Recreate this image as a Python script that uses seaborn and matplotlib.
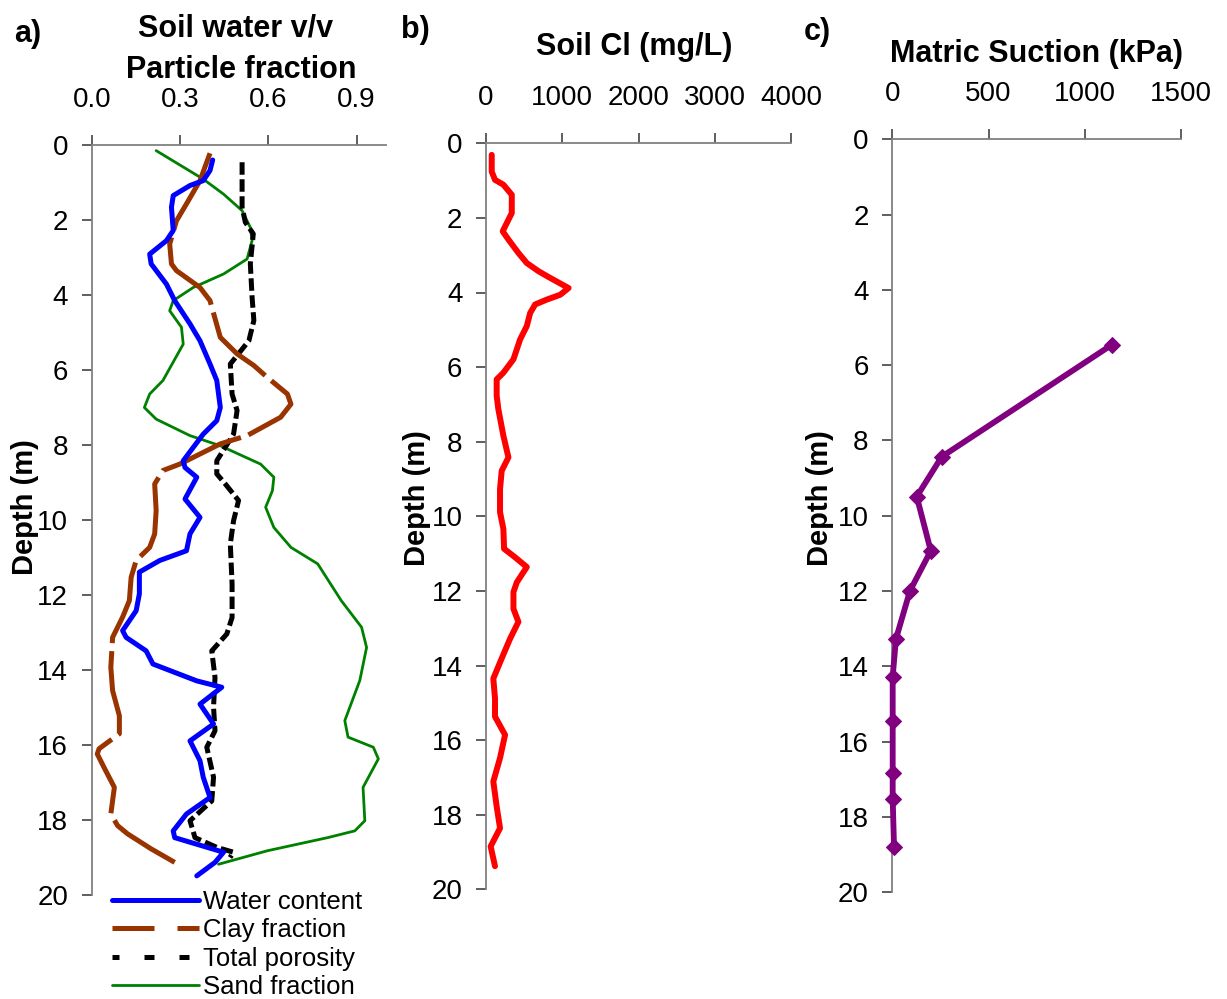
import numpy as np
import pandas as pd
import matplotlib
matplotlib.use("Agg")
import matplotlib.pyplot as plt
import seaborn as sns
from matplotlib.lines import Line2D

sns.set_theme(style="white")
plt.rcParams["font.family"] = ["Liberation Sans", "DejaVu Sans"]
plt.rcParams["text.color"] = "black"

# ---------------- data ----------------
water_depth = [0.40, 0.68, 0.95, 1.08, 1.35, 1.66, 2.28, 2.55, 2.91, 3.17, 3.71, 4.15, 4.77, 5.22,
               5.84, 6.28, 7.00, 7.35, 7.71, 8.42, 8.60, 8.86, 9.44, 9.93, 10.37, 10.82, 11.08,
               11.39, 11.97, 12.42, 12.95, 13.13, 13.49, 13.84, 14.29, 14.46, 14.91, 15.44, 15.89,
               16.42, 16.86, 17.40, 17.84, 18.29, 18.47, 18.86, 19.13, 19.49]
water_value = [0.411, 0.402, 0.379, 0.334, 0.277, 0.271, 0.277, 0.254, 0.197, 0.202, 0.254, 0.282,
               0.334, 0.368, 0.402, 0.425, 0.437, 0.425, 0.379, 0.311, 0.317, 0.357, 0.317, 0.368,
               0.334, 0.322, 0.231, 0.162, 0.162, 0.151, 0.105, 0.117, 0.185, 0.208, 0.357, 0.442,
               0.368, 0.414, 0.334, 0.368, 0.379, 0.402, 0.322, 0.277, 0.282, 0.448, 0.419, 0.357]

clay_depth = [0.22, 0.95, 1.57, 2.02, 2.64, 3.17, 3.35, 3.80, 4.15, 5.13, 5.57, 5.88, 6.20, 6.64,
              6.91, 7.26, 7.75, 7.97, 8.51, 8.68, 9.04, 9.75, 10.37, 10.73, 11.08, 11.53, 12.15,
              12.59, 13.13, 13.93, 14.55, 15.22, 15.70, 16.10, 16.24, 16.60, 17.13, 17.84, 18.15,
              18.37, 18.77, 19.13]
clay_value = [0.402, 0.368, 0.322, 0.288, 0.265, 0.271, 0.288, 0.368, 0.402, 0.437, 0.494, 0.551,
              0.597, 0.665, 0.677, 0.642, 0.528, 0.437, 0.299, 0.242, 0.214, 0.219, 0.214, 0.197,
              0.151, 0.134, 0.128, 0.105, 0.071, 0.065, 0.071, 0.094, 0.094, 0.025, 0.019, 0.042,
              0.077, 0.065, 0.088, 0.122, 0.202, 0.282]

poro_depth = [0.46, 1.66, 2.06, 2.37, 3.17, 4.06, 4.68, 5.22, 5.84, 6.64, 7.08, 7.71, 8.42, 8.77,
              9.04, 9.48, 10.02, 10.64, 11.71, 12.60, 13.04, 13.49, 14.20, 14.99, 15.62, 16.06,
              16.86, 17.49, 18.02, 18.47, 18.73, 18.86, 19.00]
poro_value = [0.511, 0.511, 0.522, 0.549, 0.539, 0.545, 0.551, 0.534, 0.471, 0.477, 0.494, 0.482,
              0.425, 0.425, 0.454, 0.499, 0.482, 0.471, 0.477, 0.477, 0.459, 0.408, 0.419, 0.414,
              0.419, 0.391, 0.414, 0.408, 0.334, 0.351, 0.425, 0.482, 0.470]

sand_depth = [0.15, 0.91, 1.31, 1.75, 2.20, 2.55, 3.04, 3.44, 3.80, 4.15, 4.42, 4.86, 5.31, 6.28,
              6.64, 7.00, 7.31, 7.75, 8.02, 8.51, 8.86, 9.22, 9.66, 10.20, 10.73, 11.17, 12.15,
              12.86, 13.40, 14.28, 15.35, 15.79, 16.06, 16.37, 17.13, 18.02, 18.29, 18.47, 18.82,
              19.18]
sand_value = [0.219, 0.379, 0.448, 0.511, 0.539, 0.545, 0.528, 0.448, 0.345, 0.277, 0.265, 0.305,
              0.311, 0.242, 0.197, 0.179, 0.219, 0.334, 0.437, 0.574, 0.619, 0.614, 0.591, 0.619,
              0.677, 0.768, 0.848, 0.917, 0.934, 0.911, 0.860, 0.871, 0.957, 0.974, 0.922, 0.928,
              0.894, 0.802, 0.597, 0.431]

cl_depth = [0.31, 0.76, 0.98, 1.11, 1.38, 1.87, 2.14, 2.36, 2.58, 2.94, 3.21, 3.43, 3.61, 3.88,
            4.06, 4.19, 4.32, 4.55, 4.90, 5.26, 5.79, 6.15, 6.33, 6.77, 7.13, 7.84, 8.42, 8.78,
            9.27, 9.89, 10.34, 10.87, 11.10, 11.36, 11.77, 12.03, 12.48, 12.83, 13.28, 13.81,
            14.35, 14.88, 15.37, 15.86, 16.48, 17.11, 17.78, 18.36, 18.85, 19.38]
cl_value = [75, 75, 118, 228, 338, 338, 272, 219, 294, 425, 535, 689, 842, 1083, 974, 798, 645,
            579, 535, 447, 360, 228, 140, 140, 162, 228, 294, 206, 184, 184, 228, 237, 382, 535,
            404, 360, 360, 425, 316, 206, 96, 118, 118, 250, 184, 96, 140, 184, 61, 118]

suction_depth = [5.46, 8.43, 9.49, 10.93, 11.99, 13.27, 14.27, 15.44, 16.82, 17.51, 18.79]
suction_value = [1140, 257, 127, 200, 92, 19, 2, 2, 2, 2, 9]

depth_ticks = list(range(0, 21, 2))
a_ticks = [0.0, 0.3, 0.6, 0.9]
a_ticklabels = ["0.0", "0.3", "0.6", "0.9"]
b_ticks = [0, 1000, 2000, 3000, 4000]
c_ticks = [0, 500, 1000, 1500]

legend_labels = ["Water content", "Clay fraction", "Total porosity", "Sand fraction"]

# ---------------- figure ----------------
W, H = 1227, 999
fig = plt.figure(figsize=(W / 100, H / 100), dpi=100)


def px_axes(l, t, r, b):
    return fig.add_axes([l / W, 1 - b / H, (r - l) / W, (b - t) / H])


axa = px_axes(91.7, 145, 386, 895)
axb = px_axes(486, 143.3, 791, 889.3)
axc = px_axes(892.3, 139.3, 1181, 892.3)

BLUE, BROWN, GREEN, RED, PURPLE = "#0000FF", "#993300", "#008000", "#FF0000", "#800080"

# panel a
sns.lineplot(x=sand_value, y=sand_depth, sort=False, estimator=None, ax=axa,
             color=GREEN, linewidth=2.0)
sns.lineplot(x=poro_value, y=poro_depth, sort=False, estimator=None, ax=axa,
             color="black", linewidth=3.6, linestyle=(0, (2.5, 0.9)))
sns.lineplot(x=clay_value, y=clay_depth, sort=False, estimator=None, ax=axa,
             color=BROWN, linewidth=3.6, linestyle=(0, (17, 1.6)))
sns.lineplot(x=water_value, y=water_depth, sort=False, estimator=None, ax=axa,
             color=BLUE, linewidth=3.6)

# panel b
sns.lineplot(x=cl_value, y=cl_depth, sort=False, estimator=None, ax=axb,
             color=RED, linewidth=4.3)

# panel c
sns.lineplot(x=suction_value, y=suction_depth, sort=False, estimator=None, ax=axc,
             color=PURPLE, linewidth=4.2, marker="D", markersize=8.5,
             markeredgecolor=PURPLE, markerfacecolor=PURPLE, clip_on=False)
for ln in axc.lines:
    ln.set_clip_on(False)
    ln.set_zorder(5)


def style(ax, xlim, xticks, xticklabels):
    ax.set_xlim(*xlim)
    ax.set_ylim(20, 0)
    ax.set_xticks(xticks)
    ax.set_xticklabels(xticklabels)
    ax.set_yticks(depth_ticks)
    ax.set_yticklabels([str(t) for t in depth_ticks])
    ax.xaxis.tick_top()
    ax.grid(False)
    ax.set_xlabel("")
    ax.set_ylabel("")
    for s in ["right", "bottom"]:
        ax.spines[s].set_visible(False)
    for s in ["top", "left"]:
        ax.spines[s].set_visible(True)
        ax.spines[s].set_color("#808080")
        ax.spines[s].set_linewidth(1.3)
    ax.tick_params(axis="x", which="both", direction="out", length=7, width=1.1,
                   color="#333333", pad=16, labelsize=20, top=True, bottom=False,
                   labeltop=True, labelbottom=False, labelcolor="black")
    ax.tick_params(axis="y", which="both", direction="out", length=7, width=1.1,
                   color="#333333", pad=10, labelsize=20, left=True, right=False,
                   labelcolor="black")
    ax.set_facecolor("white")


style(axa, (0, 1.0), a_ticks, a_ticklabels)
style(axb, (0, 4000), b_ticks, [str(t) for t in b_ticks])
style(axc, (0, 1500), c_ticks, [str(t) for t in c_ticks])


def ftext(x, y, s, **kw):
    fig.text(x / W, 1 - y / H, s, **kw)


TB = dict(fontsize=22, fontweight="bold", color="black")
ftext(236, 36.7, "Soil water v/v", ha="center", va="baseline", **TB)
ftext(241.5, 78.3, "Particle fraction", ha="center", va="baseline", **TB)
ftext(634, 55, "Soil Cl (mg/L)", ha="center", va="baseline", **TB)
ftext(1036, 61.7, "Matric Suction (kPa)", ha="center", va="baseline", **TB)

ftext(14, 41.7, "a)", ha="left", va="baseline", **TB)
ftext(401, 38.3, "b)", ha="left", va="baseline", **TB)
ftext(804, 40, "c)", ha="left", va="baseline", **TB)

DL = dict(fontsize=21, fontweight="bold", color="black")
ftext(25, 507, "Depth (m)", ha="center", va="center", rotation=90, **DL)
ftext(417, 498, "Depth (m)", ha="center", va="center", rotation=90, **DL)
ftext(820, 498, "Depth (m)", ha="center", va="center", rotation=90, **DL)

handles = [
    Line2D([], [], color=BLUE, linewidth=3.6),
    Line2D([], [], color=BROWN, linewidth=3.6, linestyle=(0, (8.4, 4.6))),
    Line2D([], [], color="black", linewidth=3.6, linestyle=(0.6, (2.0, 5.0))),
    Line2D([], [], color=GREEN, linewidth=2.0),
]
leg = fig.legend(handles, legend_labels, loc="upper left",
                 bbox_to_anchor=(112 / W, 1 - 890 / H), frameon=False, fontsize=18.5,
                 handlelength=3.4, handletextpad=0.15, labelspacing=0.17, borderpad=0,
                 borderaxespad=0)
for t in leg.get_texts():
    t.set_color("black")

fig.savefig("out.png", dpi=100, facecolor="white")
